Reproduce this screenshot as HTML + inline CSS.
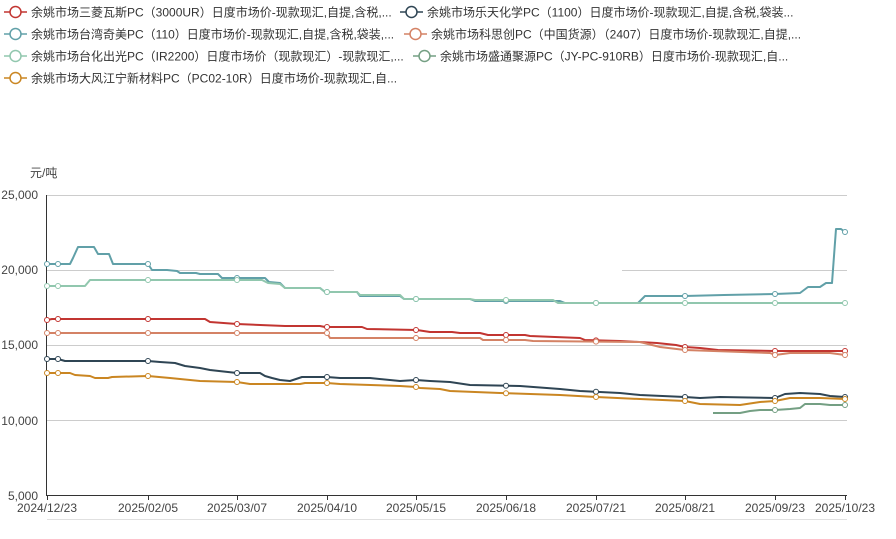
<!DOCTYPE html>
<html><head><meta charset="utf-8"><style>
body{margin:0;background:#fff;}
svg text{font-family:"Liberation Sans","Noto Sans CJK SC",sans-serif;}
</style></head><body>
<svg id="s" width="896" height="534" xmlns="http://www.w3.org/2000/svg">
<g font-size="12" fill="#333">
<g id="leg"></g>
<text x="30" y="177" fill="#444">元/吨</text>
</g>
<g stroke="#ccc" stroke-width="1">
<line x1="47" y1="195.5" x2="847" y2="195.5"/>
<line x1="47" y1="270.5" x2="334" y2="270.5"/>
<line x1="622" y1="270.5" x2="847" y2="270.5"/>
<line x1="47" y1="345.5" x2="847" y2="345.5"/>
<line x1="47" y1="420.5" x2="847" y2="420.5"/>
<line x1="47" y1="495.5" x2="847" y2="495.5"/>
<line x1="47" y1="519.5" x2="847" y2="519.5" stroke="#e0e0e0"/>
</g>
<line x1="46.5" y1="195" x2="46.5" y2="496" stroke="#333"/>
<line x1="46" y1="495.5" x2="847" y2="495.5" stroke="#333"/>
<g font-size="12" fill="#444" text-anchor="end">
<text x="38" y="199">25,000</text><text x="38" y="274">20,000</text>
<text x="38" y="349">15,000</text><text x="38" y="425">10,000</text>
<text x="38" y="500">5,000</text>
</g>
<g id="xl" font-size="12" fill="#444" text-anchor="middle"></g>
<g id="lines"></g>
</svg>
<script>
var NS="http://www.w3.org/2000/svg";
function el(t,a,p){var e=document.createElementNS(NS,t);for(var k in a)e.setAttribute(k,a[k]);p.appendChild(e);return e;}
var xs=[47,148,237,327,416,506,596,685,775,845];
var lbl=["2024/12/23","2025/02/05","2025/03/07","2025/04/10","2025/05/15","2025/06/18","2025/07/21","2025/08/21","2025/09/23","2025/10/23"];
var xl=document.getElementById("xl");
xs.forEach(function(x,i){var t=el("text",{x:x,y:512},xl);t.textContent=lbl[i];el("line",{x1:x+.5,y1:496,x2:x+.5,y2:500,stroke:"#333"},document.getElementById("s"));});
var S=[
{c:"#61a0a8",p:[[47,264],[58,264],[70,264],[73,258],[78,247],[94,247],[98,254],[109,254],[113,264],[148,264],[152,270],[167,270],[177,271],[180,273],[196,273],[200,274],[218,274],[222,278],[265,278],[269,282],[280,283],[285,288],[320,288],[325,292],[357,292],[360,296],[400,296],[404,299],[470,299],[475,301],[560,301],[565,303],[638,303],[645,296],[685,296],[724,295],[775,294],[800,293],[808,287],[820,287],[826,283],[832,283],[836,229],[841,229],[845,232]]},
{c:"#91c7ae",p:[[47,286],[58,286],[85,286],[90,280],[148,280],[237,280],[262,280],[268,283],[280,284],[285,288],[320,288],[325,292],[357,292],[360,295],[400,295],[404,299],[470,299],[475,300],[553,300],[558,303],[845,303]]},
{c:"#c23531",p:[[47,320],[52,319],[58,319],[148,319],[205,319],[210,322],[237,324],[285,326],[320,326],[325,327],[362,327],[367,329],[417,330],[430,332],[452,332],[460,333],[480,333],[488,335],[525,335],[530,336],[555,337],[580,338],[585,340],[620,341],[657,343],[676,345],[685,347],[700,348],[718,350],[775,351],[845,351]]},
{c:"#d48265",p:[[47,333],[327,333],[330,338],[480,338],[483,340],[525,340],[533,341],[640,342],[660,347],[685,350],[770,353],[775,355],[790,353],[830,353],[845,355]]},
{c:"#2f4554",p:[[47,359],[58,359],[65,361],[148,361],[160,362],[175,363],[185,366],[200,368],[210,370],[237,373],[260,373],[265,376],[272,378],[280,380],[290,381],[302,377],[327,377],[340,378],[370,378],[400,381],[416,380],[430,381],[450,382],[470,385],[520,386],[560,389],[580,391],[620,393],[640,395],[685,397],[700,398],[720,397],[775,398],[785,394],[800,393],[820,394],[830,396],[845,397]]},
{c:"#749f83",p:[[713,413],[740,413],[750,411],[760,410],[775,410],[790,409],[800,408],[805,404],[820,404],[830,405],[845,405]]},
{c:"#ca8622",p:[[47,373],[58,373],[70,373],[75,375],[90,376],[95,378],[108,378],[112,377],[148,376],[170,378],[190,380],[200,381],[237,382],[250,384],[300,384],[305,383],[327,383],[340,384],[400,386],[416,387],[420,388],[440,389],[450,391],[500,393],[560,395],[596,397],[640,399],[685,401],[700,404],[740,405],[760,402],[775,401],[790,398],[820,398],[845,399]]}
];
var L=document.getElementById("lines");
function yAt(p,x){for(var i=0;i<p.length-1;i++){if(x>=p[i][0]&&x<=p[i+1][0]){var t=(x-p[i][0])/((p[i+1][0]-p[i][0])||1);return p[i][1]+t*(p[i+1][1]-p[i][1]);}}return null;}
S.forEach(function(s){
 el("polyline",{points:s.p.map(function(q){return q.join(",")}).join(" "),fill:"none",stroke:s.c,"stroke-width":2,"stroke-linejoin":"round"},L);
 [47,58].concat(xs.slice(1)).forEach(function(x){var y=yAt(s.p,x);if(y!=null)el("circle",{cx:x,cy:y,r:2.5,fill:"#fff",stroke:s.c,"stroke-width":1},L);});
});
var leg=[["#c23531",4,12,"余姚市场三菱瓦斯PC（3000UR）日度市场价-现款现汇,自提,含税,..."],
["#2f4554",400,12,"余姚市场乐天化学PC（1100）日度市场价-现款现汇,自提,含税,袋装..."],
["#61a0a8",4,34,"余姚市场台湾奇美PC（110）日度市场价-现款现汇,自提,含税,袋装,..."],
["#d48265",404,34,"余姚市场科思创PC（中国货源）（2407）日度市场价-现款现汇,自提,..."],
["#91c7ae",4,56,"余姚市场台化出光PC（IR2200）日度市场价（现款现汇）-现款现汇,..."],
["#749f83",413,56,"余姚市场盛通聚源PC（JY-PC-910RB）日度市场价-现款现汇,自..."],
["#ca8622",4,78,"余姚市场大风江宁新材料PC（PC02-10R）日度市场价-现款现汇,自..."]];
var G=document.getElementById("leg");
leg.forEach(function(l){el("line",{x1:l[1],y1:l[2],x2:l[1]+23,y2:l[2],stroke:l[0],"stroke-width":1.5},G);
el("circle",{cx:l[1]+11.5,cy:l[2],r:5.5,fill:"#fff",stroke:l[0],"stroke-width":1.5},G);
var t=el("text",{x:l[1]+27,y:l[2]+4.5},G);t.textContent=l[3];});
</script>
</body></html>
